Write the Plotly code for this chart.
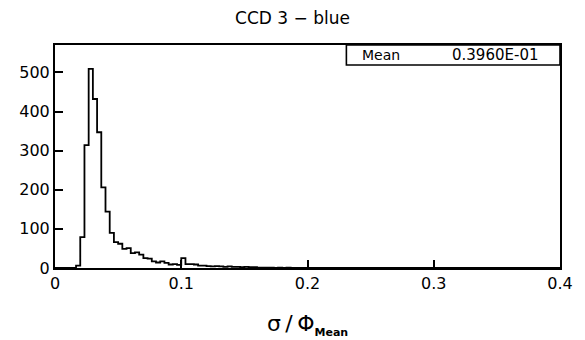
import numpy as np
import plotly.graph_objects as go

# Histogram of sigma / Phi_Mean, 120 bins over [0, 0.4]
x_min, x_max, n_bins = 0.0, 0.4, 120
counts = [0, 0, 0, 0, 0, 6, 79, 314, 509, 432,
          347, 206, 144, 90, 66, 62, 49, 51, 38, 40,
          34, 25, 24, 17, 14, 17, 13, 9, 10, 8,
          25, 10, 10, 9, 6, 6, 5, 4, 5, 4,
          3, 4, 3, 3, 2, 3, 2, 2, 1, 1,
          1, 1, 0, 1, 0, 1]
counts = counts + [0] * (n_bins - len(counts))

title_text = "CCD 3 − blue"
stat_label = "Mean"
stat_value = "0.3960E-01"
x_major = 0.1
y_major = 100
y_top = 570

edges = np.linspace(x_min, x_max, n_bins + 1)
y_steps = list(counts) + [counts[-1]]

FONT = "DejaVu Sans"

fig = go.Figure()
fig.add_trace(go.Scatter(
    x=edges, y=y_steps, mode="lines", line_shape="hv",
    line=dict(color="black", width=1.8), hoverinfo="skip", showlegend=False,
))

axis_common = dict(
    showline=True, linecolor="black", linewidth=2, mirror=True,
    showgrid=False, zeroline=False, ticks="inside", ticklen=8,
    tickwidth=2, tickcolor="black", tickmode="linear", tick0=0,
    tickfont=dict(family=FONT, size=16, color="black"),
)

fig.update_xaxes(range=[x_min, x_max], dtick=x_major, **axis_common)
fig.update_yaxes(range=[0, y_top], dtick=y_major, **axis_common)

# Statistics box in the upper-right corner
fig.add_shape(type="rect", xref="paper", yref="paper",
              x0=0.577, x1=1.0, y0=0.91, y1=1.0,
              line=dict(color="black", width=1.6), fillcolor="white")
fig.add_annotation(xref="paper", yref="paper", x=0.603, y=0.955,
                   text=stat_label, showarrow=False, xanchor="left", yanchor="middle",
                   font=dict(family=FONT, size=14, color="black"))
fig.add_annotation(xref="paper", yref="paper", x=0.96, y=0.955,
                   text=stat_value, showarrow=False, xanchor="right", yanchor="middle",
                   font=dict(family=FONT, size=15, color="black"))

# Axis title drawn as annotation for precise placement
fig.add_annotation(xref="paper", yref="paper", x=0.5, y=-0.255,
                   text="σ\u2009/\u2009Φ<sub><span style=\"font-size:11px\"><b>Mean</b></span></sub>",
                   showarrow=False, xanchor="center", yanchor="middle",
                   font=dict(family=FONT, size=22, color="black"))

fig.update_layout(
    width=585, height=340,
    margin=dict(l=55, r=22, t=45, b=72),
    paper_bgcolor="white", plot_bgcolor="white",
    title=dict(text=title_text, x=0.5, xanchor="center", y=0.947, yanchor="middle",
               font=dict(family=FONT, size=17, color="black")),
    showlegend=False,
)

fig.write_html("out.html")
